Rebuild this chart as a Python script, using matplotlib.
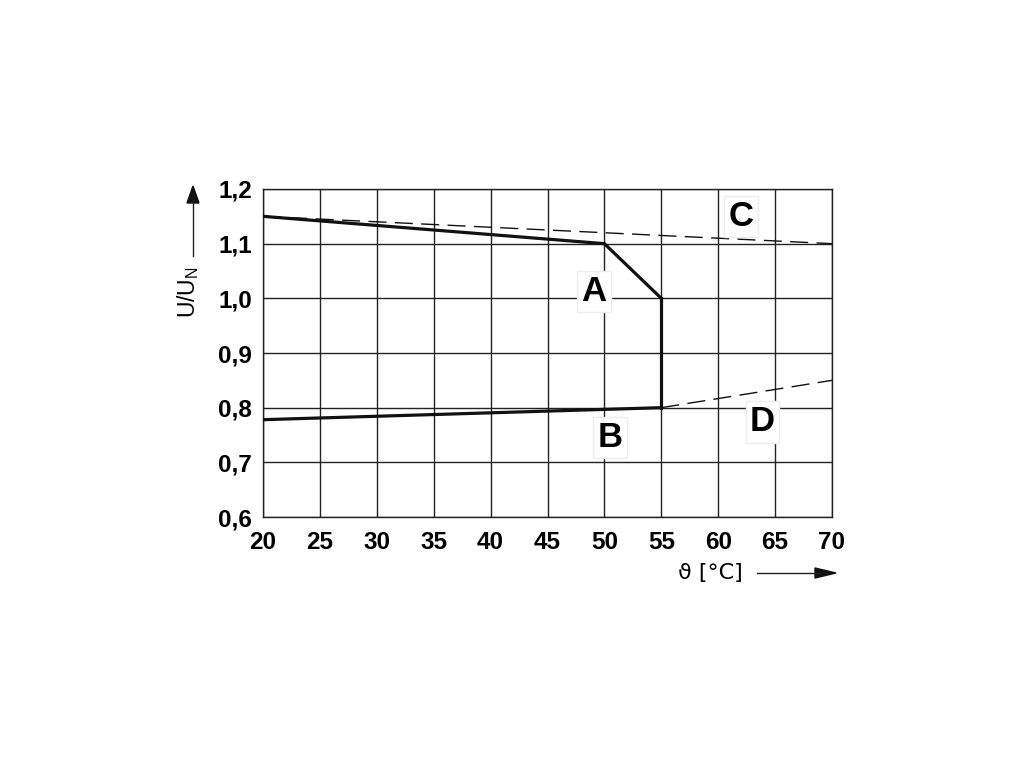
import matplotlib.pyplot as plt

plt.rcParams['font.family'] = ['Liberation Sans', 'DejaVu Sans']

# operating range boundary (solid) and extensions (dashed)
upper_x = [20, 50, 55]
upper_y = [1.15, 1.10, 1.00]
edge_x = [55, 55]
edge_y = [1.00, 0.80]
lower_x = [20, 55]
lower_y = [0.778, 0.80]
c_x = [20, 70]
c_y = [1.15, 1.10]
d_x = [55, 70]
d_y = [0.80, 0.85]

labels = ['A', 'B', 'C', 'D']
label_x = [49.1, 50.5, 62.0, 63.9]
label_y = [1.013, 0.745, 1.15, 0.774]

xticks = [20, 25, 30, 35, 40, 45, 50, 55, 60, 65, 70]
yticks = [0.6, 0.7, 0.8, 0.9, 1.0, 1.1, 1.2]
ytick_labels = ['0,6', '0,7', '0,8', '0,9', '1,0', '1,1', '1,2']

fig = plt.figure(figsize=(10.2, 7.65), dpi=100)
ax = fig.add_axes([263 / 1020, 1 - 517 / 765, (832 - 263) / 1020, (517 - 189) / 765])

ax.set_xlim(20, 70)
ax.set_ylim(0.6, 1.2)
ax.set_xticks(xticks)
ax.set_yticks(yticks)
ax.set_xticklabels([str(t) for t in xticks], fontsize=17.5, fontweight='bold')
ax.set_yticklabels(ytick_labels, fontsize=17.5, fontweight='bold')
ax.tick_params(axis='x', length=0, pad=10)
ax.tick_params(axis='y', length=0, pad=8)
ax.grid(True, color='#222222', linewidth=1.0)
for s in ax.spines.values():
    s.set_color('#222222')
    s.set_linewidth(1.0)

ax.plot(c_x, c_y, color='#111111', linewidth=1.0, dashes=(13, 6), zorder=3)
ax.plot(d_x, d_y, color='#111111', linewidth=1.0, dashes=(13, 6), zorder=3)
ax.plot(upper_x, upper_y, color='#111111', linewidth=2.3, zorder=4)
ax.plot(edge_x, edge_y, color='#111111', linewidth=2.3, zorder=4)
ax.plot(lower_x, lower_y, color='#111111', linewidth=2.3, zorder=4)

for lab, lx, ly in zip(labels, label_x, label_y):
    ax.text(lx, ly, lab, fontsize=25, fontweight='bold', ha='center', va='center', zorder=5,
            bbox=dict(facecolor='white', edgecolor='#eeeeee', pad=3))

# axis labels with arrows
fig.text(188 / 1020, 1 - 292 / 765, 'U/U$_\\mathregular{N}$', rotation=90, fontsize=16.5,
         ha='center', va='center')
fig.add_artist(plt.Line2D([193 / 1020, 193 / 1020], [1 - 256 / 765, 1 - 200 / 765],
                          color='#222222', linewidth=1.0))
fig.patches.append(plt.Polygon([[187 / 1020, 1 - 203 / 765], [199 / 1020, 1 - 203 / 765],
                                [193 / 1020, 1 - 186 / 765]], closed=True, color='#111111',
                               transform=fig.transFigure))

fig.text(710 / 1020, 1 - 573 / 765, 'ϑ [°C]', fontsize=16, ha='center', va='center',
         family=['DejaVu Sans'])
fig.add_artist(plt.Line2D([757 / 1020, 820 / 1020], [1 - 573 / 765, 1 - 573 / 765],
                          color='#222222', linewidth=1.0))
fig.patches.append(plt.Polygon([[815 / 1020, 1 - 568 / 765], [815 / 1020, 1 - 578 / 765],
                                [836 / 1020, 1 - 573 / 765]], closed=True, color='#111111',
                               transform=fig.transFigure))

fig.savefig('out.png', dpi=100, facecolor='white')
